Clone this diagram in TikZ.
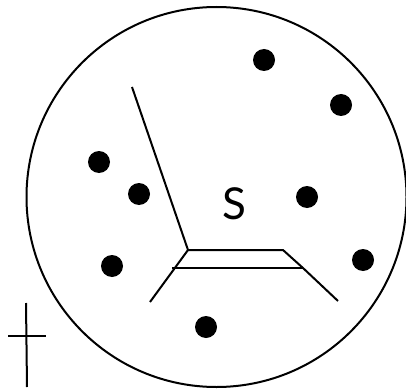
\documentclass[tikz,border=0pt]{standalone}
\usepackage{fontspec}
\setmainfont{Lato}
\begin{document}
\begin{tikzpicture}[x=1pt,y=-1pt,
  ln/.style={line width=2pt,black},
  dot/.style={circle,fill=black,inner sep=0pt,minimum size=22pt}]
\useasboundingbox (0,0) rectangle (406,390);
\node[draw,circle,line width=2pt,minimum size=380pt,inner sep=0pt] (ring) at (216.5,197) {};
\node[dot] (d1) at (264,60) {};
\node[dot] (d2) at (341,105) {};
\node[dot] (d3) at (99,162) {};
\node[dot] (d4) at (139,194) {};
\node[dot] (d5) at (307,197) {};
\node[dot] (d6) at (112,266) {};
\node[dot] (d7) at (363,260) {};
\node[dot] (d8) at (206,327) {};
\node[font=\fontsize{44}{48}\selectfont,inner sep=0pt] (s) at (234,204) {S};
\coordinate (a) at (132,87);
\coordinate (b) at (188,250);
\coordinate (c) at (283,250);
\coordinate (d) at (303,268);
\coordinate (e) at (338,301);
\coordinate (f) at (172,268);
\coordinate (g) at (150,302);
\draw[ln] (a) -- (b) -- (c) -- (d) -- (e);
\draw[ln] (f) -- (d);
\draw[ln] (b) -- (g);
\coordinate (v1) at (26,303);
\coordinate (v2) at (27,387);
\coordinate (h1) at (8,336);
\coordinate (h2) at (46,336);
\draw[ln] (v1) -- (v2);
\draw[ln] (h1) -- (h2);
\end{tikzpicture}
\end{document}
